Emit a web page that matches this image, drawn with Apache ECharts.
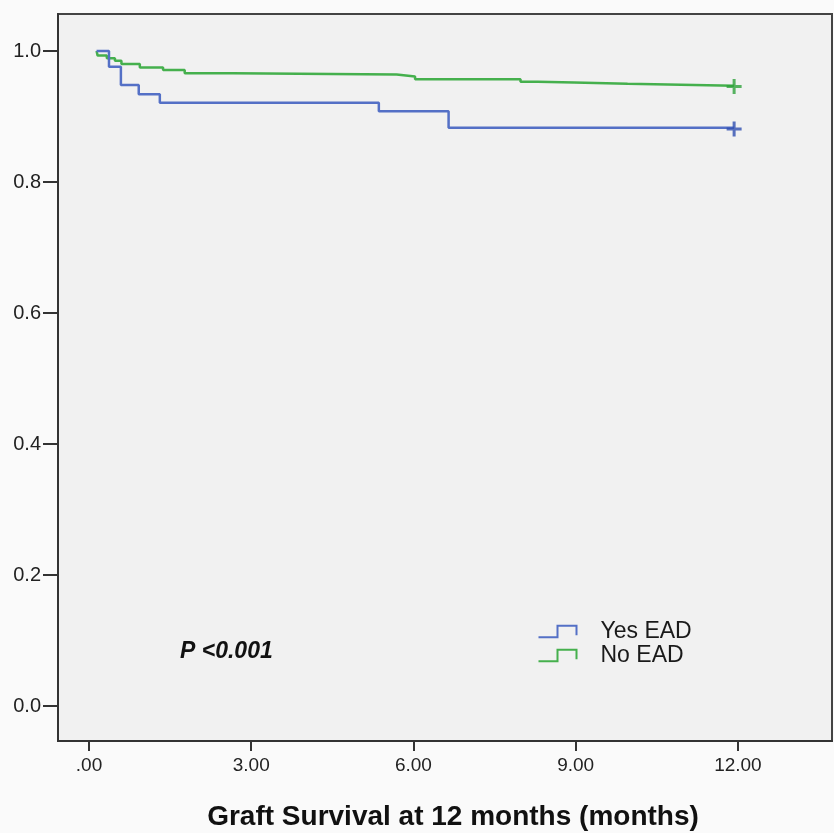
<!DOCTYPE html>
<html>
<head>
<meta charset="utf-8">
<script src="https://cdn.jsdelivr.net/npm/echarts@6/dist/echarts.min.js"></script>
<style>
html,body{margin:0;padding:0;background:#fafafa;}
#chart{width:834px;height:833px;}
</style>
</head>
<body>
<div id="chart"></div>
<script>
// Kaplan-Meier step data: [months, survival]
const yesEAD = [[0.14,1.0],[0.37,0.976],[0.59,0.948],[0.92,0.934],[1.31,0.921],[5.36,0.908],[6.65,0.883],[11.93,0.883]];
const noEAD = [[0.14,1.0],[0.16,0.993],[0.33,0.989],[0.48,0.985],[0.60,0.980],[0.94,0.975],[1.37,0.971],[1.77,0.966],[2.66,0.964],[5.69,0.961],[6.03,0.957],[7.98,0.953],[8.30,0.952],[8.97,0.950],[9.96,0.947],[11.93,0.947]];
const censorYes = [[11.93,0.881]];
const censorNo = [[11.93,0.946]];
const xTicks = [0,3,6,9,12];
const xTickLabels = ['.00','3.00','6.00','9.00','12.00'];
const yTicks = [0,0.2,0.4,0.6,0.8,1.0];
const yTickLabels = ['0.0','0.2','0.4','0.6','0.8','1.0'];
const seriesNames = ['Yes EAD','No EAD'];

const blue = '#5470c6';
const green = '#45b04d';
const blueDark = '#2f4fb0';
const greenDark = '#2fa23c';
const font = 'Liberation Sans, Arial, sans-serif';
const plus = 'path://M-1.2,-6 L1.2,-6 L1.2,-1.2 L6,-1.2 L6,1.2 L1.2,1.2 L1.2,6 L-1.2,6 L-1.2,1.2 L-6,1.2 L-6,-1.2 L-1.2,-1.2 Z';
const stepIcon = 'path://M0,12 L18,12 L18,1 L36,1 L36,10';

const chart = echarts.init(document.getElementById('chart'));
chart.setOption({
  animation: false,
  backgroundColor: '#fafafa',
  grid: {left: 58, top: 14, right: 2, bottom: 92, outerBoundsMode: 'none', containLabel: false,
    show: true, backgroundColor: '#f1f1f1', borderColor: '#444', borderWidth: 2},
  xAxis: {
    type: 'value', min: -0.573, max: 13.74,
    axisLine: {show: true, onZero: false, lineStyle: {color: '#333', width: 2}},
    axisTick: {show: true, length: 10, lineStyle: {color: '#333', width: 2}, customValues: xTicks},
    axisLabel: {customValues: xTicks, margin: 15, color: '#222', fontFamily: font, fontSize: 19,
      formatter: v => xTickLabels[xTicks.indexOf(Math.round(v*1000)/1000)] || ''},
    splitLine: {show: false},
    name: 'Graft Survival at 12 months (months)', nameLocation: 'middle', nameGap: 62,
    nameTextStyle: {fontFamily: font, fontSize: 28, fontWeight: 'bold', color: '#111', padding: [0,0,0,16]}
  },
  yAxis: {
    type: 'value', min: -0.0534, max: 1.0565,
    axisLine: {show: true, onZero: false, lineStyle: {color: '#333', width: 2}},
    axisTick: {show: true, length: 15, lineStyle: {color: '#333', width: 2}, customValues: yTicks},
    axisLabel: {customValues: yTicks, margin: 17, color: '#222', fontFamily: font, fontSize: 20,
      formatter: v => yTickLabels[yTicks.indexOf(Math.round(v*10)/10)] || ''},
    splitLine: {show: false}
  },
  legend: {
    orient: 'vertical', left: 531, top: 615, itemGap: 1, itemWidth: 38, itemHeight: 12,
    textStyle: {fontFamily: font, fontSize: 23, color: '#1a1a1a', padding: [0,0,0,19]},
    data: [
      {name: seriesNames[0], icon: stepIcon, itemStyle: {color: 'none', borderColor: blue, borderWidth: 2}},
      {name: seriesNames[1], icon: stepIcon, itemStyle: {color: 'none', borderColor: green, borderWidth: 2}}
    ]
  },
  graphic: [{
    type: 'text', left: 180, top: 640,
    style: {text: 'P <0.001', fontFamily: font, fontSize: 23, fontWeight: 'bold', fontStyle: 'italic', fill: '#111'}
  }],
  series: [
    {name: seriesNames[0], type: 'line', step: 'end', data: yesEAD, showSymbol: false, symbol: 'none',
      lineStyle: {color: blue, width: 2.5}, itemStyle: {color: blue}, z: 3},
    {name: seriesNames[1], type: 'line', step: 'end', data: noEAD, showSymbol: false, symbol: 'none',
      lineStyle: {color: green, width: 2.5}, itemStyle: {color: green}, z: 2},
    {type: 'scatter', data: censorYes, symbol: plus, symbolSize: 15, itemStyle: {color: blueDark}, z: 4},
    {type: 'scatter', data: censorNo, symbol: plus, symbolSize: 15, itemStyle: {color: greenDark}, z: 4}
  ]
});
</script>
</body>
</html>
